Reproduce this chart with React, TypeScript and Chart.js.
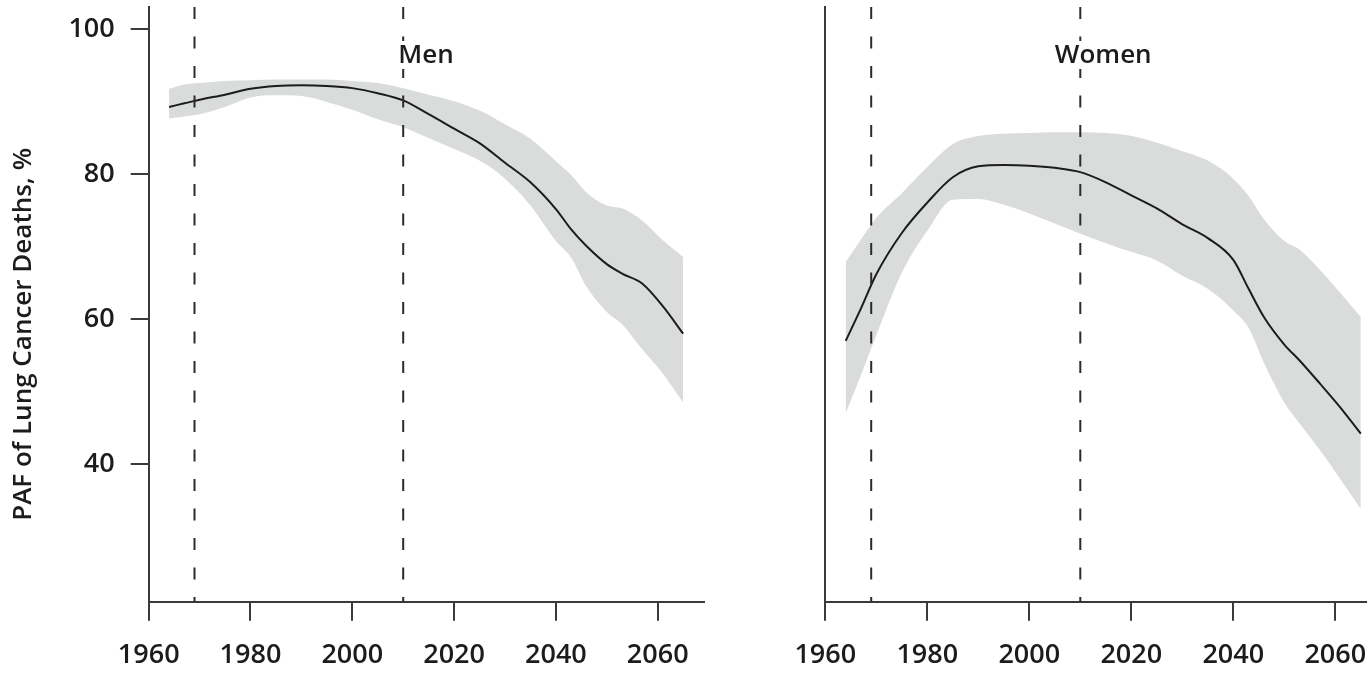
import React, { useEffect, useRef } from "react";
import { Chart, registerables } from "chart.js";

Chart.register(...registerables);

// Projection years shared by every series
const YEARS = [1964, 1967, 1970, 1975, 1980, 1985, 1990, 1995, 2000, 2005, 2010, 2015, 2020, 2025, 2030, 2035, 2040, 2043, 2046, 2050, 2053, 2057, 2061, 2065];

// Men: central estimate and uncertainty band (PAF, %)
const MEN_MID = [89.3, 89.8, 90.3, 91.0, 91.8, 92.2, 92.3, 92.2, 91.9, 91.2, 90.2, 88.3, 86.3, 84.3, 81.6, 78.9, 75.2, 72.4, 70.1, 67.6, 66.3, 64.9, 61.8, 58.0];
const MEN_HIGH = [91.8, 92.4, 92.6, 92.9, 93.0, 93.1, 93.1, 93.1, 92.9, 92.6, 91.9, 91.0, 90.1, 88.8, 86.9, 84.9, 81.8, 79.9, 77.5, 75.7, 75.3, 73.6, 70.9, 68.6];
const MEN_LOW = [87.7, 88.0, 88.3, 89.3, 90.6, 90.9, 90.8, 90.0, 88.9, 87.6, 86.5, 85.0, 83.5, 81.9, 79.4, 75.7, 70.8, 68.5, 64.5, 61.0, 59.3, 55.8, 52.5, 48.5];

// Women: central estimate and uncertainty band (PAF, %)
const WOMEN_MID = [57.0, 61.5, 66.2, 71.9, 76.1, 79.6, 81.1, 81.3, 81.2, 80.9, 80.3, 78.9, 77.1, 75.3, 73.1, 71.2, 68.2, 64.2, 60.3, 56.5, 54.3, 51.1, 47.8, 44.2];
const WOMEN_HIGH = [67.9, 71.0, 74.0, 77.4, 81.0, 84.2, 85.3, 85.6, 85.7, 85.8, 85.8, 85.7, 85.3, 84.4, 83.2, 81.9, 79.4, 77.0, 73.8, 70.8, 69.6, 66.8, 63.6, 60.3];
const WOMEN_LOW = [47.0, 52.3, 57.8, 66.4, 72.2, 76.5, 76.6, 75.8, 74.6, 73.2, 71.8, 70.5, 69.3, 68.1, 66.0, 64.2, 61.2, 58.8, 54.0, 48.5, 45.6, 41.9, 37.9, 33.8];

// Reference years marked with dashed vertical lines
const MARKER_YEARS = [1969, 2010];

// Axis ticks and ranges
const X_TICKS = [1960, 1980, 2000, 2020, 2040, 2060];
const Y_TICKS = [40, 60, 80, 100];
const Y_MIN = 21;
const Y_MAX = 103.1;
const LABEL_YEAR = 2014.5;

const FONT = "'Open Sans', 'Noto Sans', sans-serif";
const INK = "#1c1c1c";
const AXIS = "#3a3a3a";
const BAND = "#d9dcdb";

const H = 675;
const AXIS_BOTTOM = 601.7;

type PanelOpts = {
  title: string;
  mid: number[];
  low: number[];
  high: number[];
  xMax: number;
  yWidth: number;
  padRight: number;
  showYLabels: boolean;
  yTitle?: string;
};

const pts = (vals: number[]) => YEARS.map((x, i) => ({ x, y: vals[i] }));

function makeConfig(o: PanelOpts): any {
  const markers = MARKER_YEARS.map((yr) => ({
    data: [
      { x: yr, y: Y_MAX },
      { x: yr, y: Y_MIN },
    ],
    borderColor: "#2b2b2b",
    borderWidth: 2,
    borderDash: [12, 17.5],
    pointRadius: 0,
    fill: false,
    order: 0,
    clip: false,
  }));

  const labelPlugin = {
    id: "panelLabel",
    afterDraw(chart: any) {
      const { ctx, scales, chartArea } = chart;
      ctx.save();
      ctx.font = `600 26px ${FONT}`;
      const cx = scales.x.getPixelForValue(LABEL_YEAR);
      const w = ctx.measureText(o.title).width;
      const base = chartArea.top + 56;
      ctx.fillStyle = "#ffffff";
      ctx.fillRect(cx - w / 2 - 2, base - 22, w + 4, 28);
      ctx.fillStyle = INK;
      ctx.textAlign = "center";
      ctx.textBaseline = "alphabetic";
      ctx.fillText(o.title, cx, base);
      if (o.yTitle) {
        ctx.translate(24, (chartArea.top + chartArea.bottom) / 2 + 30);
        ctx.rotate(-Math.PI / 2);
        ctx.textAlign = "center";
        ctx.textBaseline = "middle";
        ctx.font = `600 26px ${FONT}`;
        ctx.fillText(o.yTitle, 0, 0);
      }
      ctx.restore();
    },
  };

  return {
    type: "line",
    data: {
      datasets: [
        {
          data: pts(o.low),
          borderColor: "transparent",
          borderWidth: 0,
          pointRadius: 0,
          fill: false,
          order: 4,
          cubicInterpolationMode: "monotone",
        },
        {
          data: pts(o.high),
          borderColor: "transparent",
          borderWidth: 0,
          pointRadius: 0,
          backgroundColor: BAND,
          fill: "-1",
          order: 3,
          cubicInterpolationMode: "monotone",
        },
        {
          data: pts(o.mid),
          borderColor: INK,
          borderWidth: 2,
          pointRadius: 0,
          fill: false,
          order: 1,
          cubicInterpolationMode: "monotone",
        },
        ...markers,
      ],
    },
    options: {
      responsive: false,
      animation: false,
      devicePixelRatio: 1,
      layout: { padding: { left: 0, top: 7, right: o.padRight, bottom: 0 } },
      plugins: {
        legend: { display: false },
        tooltip: { enabled: false },
        title: { display: false },
      },
      scales: {
        x: {
          type: "linear",
          min: 1960,
          max: o.xMax,
          afterBuildTicks: (s: any) => {
            s.ticks = X_TICKS.map((v) => ({ value: v }));
          },
          afterFit: (s: any) => {
            s.height = H - AXIS_BOTTOM;
            s.paddingLeft = 0;
            s.paddingRight = 0;
          },
          grid: {
            display: true,
            drawOnChartArea: false,
            drawTicks: true,
            tickLength: 19,
            color: AXIS,
            lineWidth: 2,
          },
          border: { display: true, color: AXIS, width: 2 },
          ticks: {
            autoSkip: false,
            maxRotation: 0,
            padding: 18,
            color: INK,
            font: { family: FONT, size: 27, weight: "600" },
            callback: (v: any) => String(v),
          },
        },
        y: {
          type: "linear",
          min: Y_MIN,
          max: Y_MAX,
          afterBuildTicks: (s: any) => {
            s.ticks = Y_TICKS.map((v) => ({ value: v }));
          },
          afterFit: (s: any) => {
            s.width = o.yWidth;
            s.paddingTop = 0;
            s.paddingBottom = 0;
          },
          grid: {
            display: true,
            drawOnChartArea: false,
            drawTicks: o.showYLabels,
            tickLength: 18,
            color: AXIS,
            lineWidth: 2,
          },
          border: { display: true, color: AXIS, width: 2 },
          ticks: {
            display: o.showYLabels,
            padding: 16,
            color: INK,
            font: { family: FONT, size: 27, weight: "600" },
            callback: (v: any) => String(v),
          },
        },
      },
    },
    plugins: [labelPlugin],
  };
}

const LEFT_W = 720;
const RIGHT_W = 1367 - LEFT_W;

export default function App() {
  const leftRef = useRef<HTMLCanvasElement | null>(null);
  const rightRef = useRef<HTMLCanvasElement | null>(null);

  useEffect(() => {
    if (!leftRef.current || !rightRef.current) return;
    const men = new Chart(
      leftRef.current,
      makeConfig({
        title: "Men",
        mid: MEN_MID,
        low: MEN_LOW,
        high: MEN_HIGH,
        xMax: 2069,
        yWidth: 148.7,
        padRight: LEFT_W - 703.5,
        showYLabels: true,
        yTitle: "PAF of Lung Cancer Deaths, %",
      })
    );
    const women = new Chart(
      rightRef.current,
      makeConfig({
        title: "Women",
        mid: WOMEN_MID,
        low: WOMEN_LOW,
        high: WOMEN_HIGH,
        xMax: 1960 + (RIGHT_W - (825.3 - LEFT_W)) / 5.1,
        yWidth: 825.3 - LEFT_W,
        padRight: 0,
        showYLabels: false,
      })
    );
    return () => {
      men.destroy();
      women.destroy();
    };
  }, []);

  return (
    <div style={{ position: "absolute", left: 0, top: 0, width: 1367, height: H, background: "#ffffff" }}>
      <canvas
        ref={leftRef}
        width={LEFT_W}
        height={H}
        style={{ position: "absolute", left: 0, top: 0, width: LEFT_W, height: H }}
      />
      <canvas
        ref={rightRef}
        width={RIGHT_W}
        height={H}
        style={{ position: "absolute", left: LEFT_W, top: 0, width: RIGHT_W, height: H }}
      />
    </div>
  );
}
